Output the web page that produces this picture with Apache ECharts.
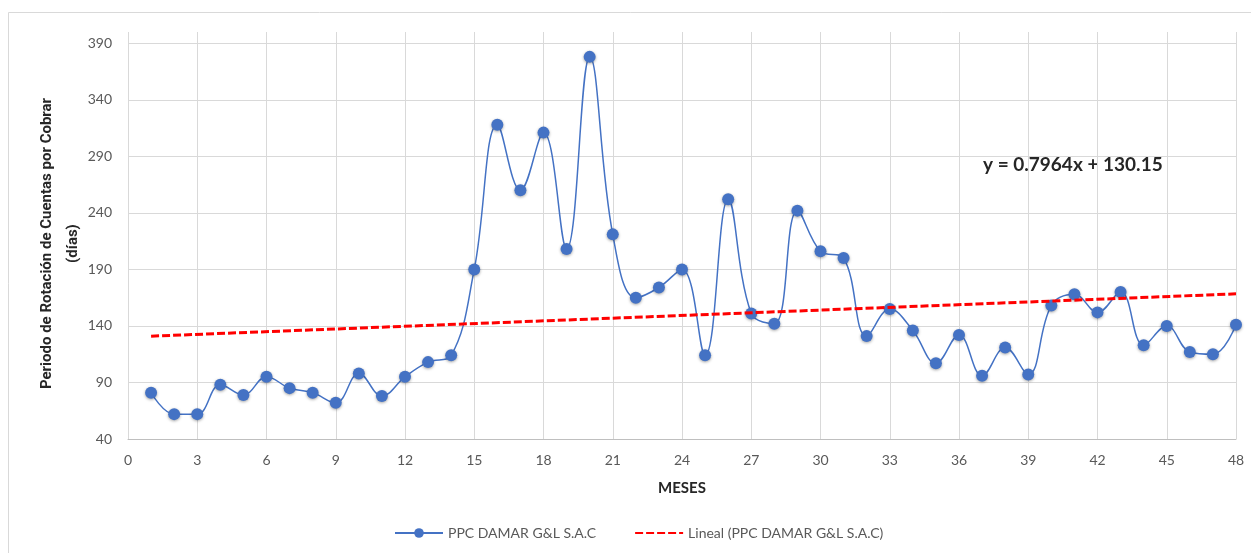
<!DOCTYPE html>
<html>
<head>
<meta charset="utf-8">
<script src="https://cdn.jsdelivr.net/npm/echarts@6/dist/echarts.min.js"></script>
<style>
html,body{margin:0;padding:0;background:#fff;}
#chart{width:1251px;height:553px;}
</style>
</head>
<body>
<div id="chart"></div>
<script>
const months = [1,2,3,4,5,6,7,8,9,10,11,12,13,14,15,16,17,18,19,20,21,22,23,24,25,26,27,28,29,30,31,32,33,34,35,36,37,38,39,40,41,42,43,44,45,46,47,48];
const ppcValues = [81,62,62,88,79,95,85,81,72,98,78,95,108,114,190,318,260,311,208,378,221,165,174,190,114,252,151,142,242,206,200,131,155,136,107,132,96,121,97,158,168,152,170,123,140,117,115,141];
const trendX = [1, 48];
const trendSlope = 0.7964;
const trendIntercept = 130.15;
const yTicks = {min: 40, max: 400, interval: 50};
const xTicks = {min: 0, max: 48, interval: 3};
const seriesName = 'PPC DAMAR G&L S.A.C';
const trendName = 'Lineal (PPC DAMAR G&L S.A.C)';
const equationText = 'y = 0.7964x + 130.15';

const ppcData = months.map((m, i) => [m, ppcValues[i]]);
const trendData = trendX.map(x => [x, +(trendSlope * x + trendIntercept).toFixed(2)]);

const FONT = 'Lato, "Liberation Sans", Arial, sans-serif';
const BOLDFONT = 'Roboto, "Liberation Sans", Arial, sans-serif';
const chart = echarts.init(document.getElementById('chart'));
chart.setOption({
  animation: false,
  backgroundColor: '#fff',
  grid: {left: 128, right: 15, top: 32, bottom: 114, containLabel: false},
  graphic: [
    {type: 'rect', shape: {x: 8.5, y: 12.5, width: 1260, height: 560}, style: {fill: 'none', stroke: '#d9d9d9', lineWidth: 1}, z: -10},
    {type: 'text', left: 983, top: 155, style: {text: equationText, font: 'bold 19px ' + FONT, fill: '#262626'}}
  ],
  legend: {
    bottom: 8,
    left: 389,
    itemWidth: 48,
    itemHeight: 12,
    itemGap: 38,
    textStyle: {color: '#595959', fontSize: 14, fontFamily: FONT},
    data: [
      {name: seriesName},
      {name: trendName, itemStyle: {opacity: 0}}
    ]
  },
  xAxis: {
    type: 'value',
    min: xTicks.min, max: xTicks.max, interval: xTicks.interval,
    name: 'MESES', nameLocation: 'middle', nameGap: 42, nameMoveOverlap: false,
    nameTextStyle: {fontWeight: 'bold', fontSize: 15, color: '#262626', fontFamily: FONT},
    axisLine: {show: true, lineStyle: {color: '#bfbfbf'}},
    axisTick: {show: false},
    axisLabel: {color: '#595959', fontSize: 14, margin: 14, fontFamily: FONT},
    splitLine: {show: true, lineStyle: {color: '#d9d9d9', width: 1}}
  },
  yAxis: {
    type: 'value',
    min: yTicks.min, max: yTicks.max, interval: yTicks.interval,
    name: 'Periodo de Rotación de Cuentas por Cobrar\n(días)',
    nameLocation: 'middle', nameGap: 42, nameMoveOverlap: false,
    nameTextStyle: {fontWeight: 'bold', fontSize: 15, color: '#262626', fontFamily: BOLDFONT, lineHeight: 26, padding: [0, 16, 0, 0]},
    axisLine: {show: false},
    axisTick: {show: false},
    axisLabel: {color: '#595959', fontSize: 14, margin: 16, showMaxLabel: false, fontFamily: FONT},
    splitLine: {show: true, showMaxLine: false, lineStyle: {color: '#d9d9d9', width: 1}}
  },
  series: [
    {
      name: seriesName,
      type: 'line',
      data: ppcData,
      smooth: 0.4,
      symbol: 'circle',
      symbolSize: 12,
      lineStyle: {color: '#4472C4', width: 1.5},
      itemStyle: {color: '#4472C4', shadowBlur: 3, shadowColor: 'rgba(0,0,0,0.35)', shadowOffsetY: 1},
      z: 3
    },
    {
      name: trendName,
      type: 'line',
      data: trendData,
      symbol: 'none',
      lineStyle: {color: '#FF0000', width: 3, type: [8, 3]},
      itemStyle: {color: '#FF0000'},
      z: 4
    }
  ]
});
</script>
</body>
</html>
